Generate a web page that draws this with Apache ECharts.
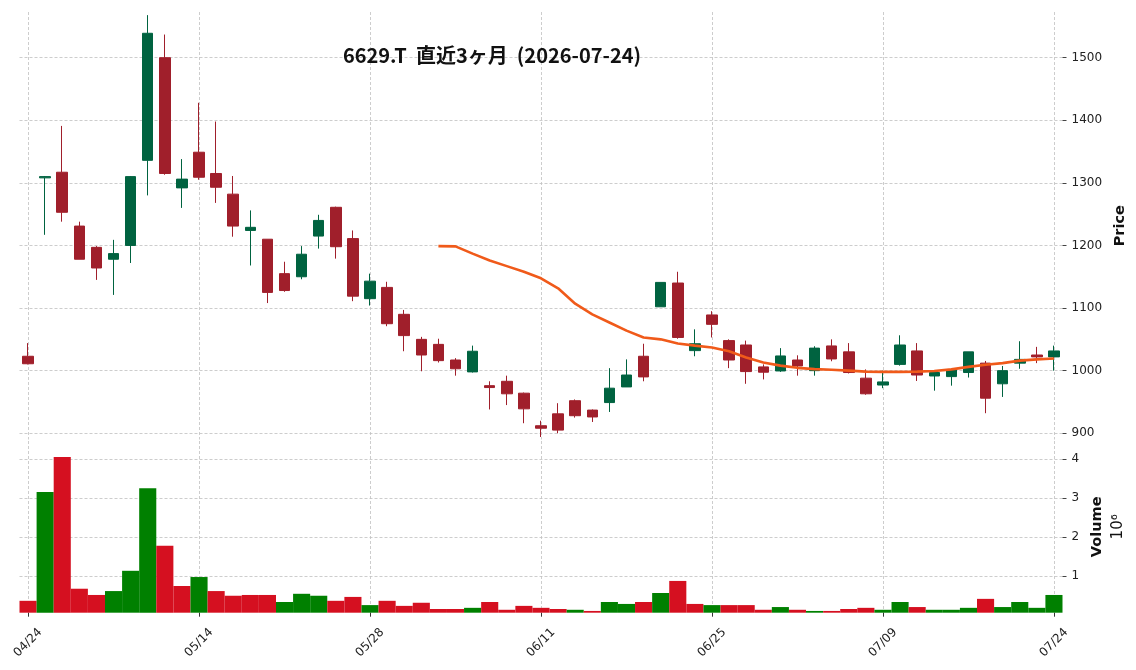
<!DOCTYPE html>
<html>
<head>
<meta charset="utf-8">
<title>6629.T</title>
<script src="https://cdn.jsdelivr.net/npm/echarts@6/dist/echarts.min.js"></script>
<style>
  html, body { margin: 0; padding: 0; background: #fff; }
  #chart { width: 1136px; height: 670px; }
</style>
</head>
<body>
<div id="chart"></div>
<script>
// trading days (MM/DD)
const dates = [
  '04/24', '04/27', '04/28', '04/30', '05/01', '05/07', '05/08', '05/11', '05/12', '05/13',
  '05/14', '05/15', '05/18', '05/19', '05/20', '05/21', '05/22', '05/25', '05/26', '05/27',
  '05/28', '05/29', '06/01', '06/02', '06/03', '06/04', '06/05', '06/08', '06/09', '06/10',
  '06/11', '06/12', '06/15', '06/16', '06/17', '06/18', '06/19', '06/22', '06/23', '06/24',
  '06/25', '06/26', '06/29', '06/30', '07/01', '07/02', '07/03', '07/06', '07/07', '07/08',
  '07/09', '07/10', '07/13', '07/14', '07/15', '07/16', '07/17', '07/21', '07/22', '07/23',
  '07/24'
]

const opens = [
  1023, 1308, 1317, 1231, 1197, 1178, 1200, 1336, 1500, 1292,
  1349, 1315, 1282, 1224, 1210, 1155, 1150, 1215, 1261, 1211,
  1115, 1133, 1090, 1050, 1042, 1017, 998, 976, 983, 964,
  912, 931, 952, 937, 949, 974, 1023, 1102, 1140, 1032,
  1089, 1048, 1041, 1006, 999.5, 1017, 1000, 1039.5, 1030, 988,
  977, 1010, 1031.5, 991.5, 990.5, 997, 1012, 979, 1012, 1025,
  1022
]
const closes = [
  1011, 1310, 1253, 1178, 1164, 1187, 1310, 1539, 1315, 1306,
  1309, 1293, 1231, 1229, 1125, 1128, 1186, 1240, 1198, 1119,
  1143, 1075, 1056, 1025, 1016, 1003, 1031, 973, 963, 939,
  908, 905, 928, 926, 972, 993, 990, 1141, 1053, 1043,
  1074, 1017, 998.5, 997.5, 1023.5, 1007.5, 1036, 1018.7, 997, 963,
  982, 1041, 993, 997, 1001, 1030, 956, 1000, 1018, 1022,
  1031.5
]
const lows = [
  1010, 1217, 1238, 1178, 1145, 1121, 1172, 1280, 1313, 1260,
  1305, 1268, 1214, 1168, 1108, 1126, 1146, 1195, 1179, 1111,
  1104, 1071, 1031, 999, 1013, 992, 997, 938, 945, 916,
  894, 900, 925, 918, 934, 974, 983, 1102, 1051, 1023,
  1053, 1004, 979, 986, 998, 992, 992, 1015, 995.5, 961.5,
  972, 1008, 983.5, 968, 976, 989, 932, 958, 1003, 1012,
  1000
]
const highs = [
  1044, 1311, 1391, 1238, 1199, 1209, 1311, 1568, 1537, 1338,
  1428, 1398, 1311, 1256, 1210, 1174, 1199, 1249, 1262, 1224,
  1155, 1142, 1097, 1054, 1051, 1020, 1040, 983, 992, 965,
  920, 948, 954, 938, 1004, 1018, 1043, 1141, 1158, 1066,
  1095, 1050, 1048, 1010, 1036, 1024.5, 1039, 1050, 1044, 1002,
  1000, 1056.5, 1044, 1000, 1003, 1030, 1015.5, 1007.5, 1047, 1038,
  1040
]

// 25-day moving average as drawn (starts on the 25th session)
const ma25 = [
  null, null, null, null, null, null, null, null, null, null,
  null, null, null, null, null, null, null, null, null, null,
  null, null, null, null, 1199, 1198.5, 1187, 1176, 1167, 1158,
  1147.5, 1131.5, 1107, 1090, 1077, 1064, 1053, 1050, 1043.5, 1040,
  1037, 1031, 1021, 1013, 1008, 1004.5, 1002.5, 1001.5, 1000, 998.5,
  998, 998, 998.5, 999.5, 1002, 1006, 1009.5, 1012, 1016, 1018,
  1019.5
]

const volumes = [
  370000, 3160000, 4060000, 680000, 520000, 620000, 1140000, 3260000, 1780000, 750000,
  980000, 620000, 500000, 520000, 520000, 340000, 550000, 500000, 370000, 470000,
  260000, 370000, 240000, 320000, 160000, 160000, 190000, 340000, 140000, 240000,
  190000, 160000, 140000, 110000, 340000, 290000, 340000, 570000, 880000, 290000,
  260000, 260000, 260000, 140000, 210000, 140000, 110000, 110000, 160000, 190000,
  140000, 340000, 210000, 140000, 140000, 190000, 420000, 210000, 340000, 190000,
  520000
]

const priceTicks = [900, 1000, 1100, 1200, 1300, 1400, 1500]
const volumeTicks = [1, 2, 3, 4]

const UP = '#006340'
const DOWN = '#a01f2b'
const VOL_UP = '#008000'
const VOL_DOWN = '#d51020'
const MA_COLOR = '#f05a1a'
const GRID_LINE = { color: '#c0c0c0', width: 0.8, type: [3, 2] }
const AXIS_FONT = 'DejaVu Sans'

const candleData = opens.map((o, i) => [o, closes[i], lows[i], highs[i]])

// volume coloured by close vs previous close
const volColor = i => {
  const prev = i === 0 ? opens[0] : closes[i - 1]
  return closes[i] >= prev ? VOL_UP : VOL_DOWN
}

const chart = echarts.init(document.getElementById('chart'), null, { renderer: 'canvas' })

const baseX = {
  type: 'category',
  data: dates,
  boundaryGap: true,
  axisLine: { show: false },
  splitLine: { show: true, interval: 9, alignWithLabel: true, lineStyle: GRID_LINE }
}

const option = {
  backgroundColor: '#ffffff',
  animation: false,
  title: {
    text: '6629.T  直近3ヶ月  (2026-07-24)',
    left: 487,
    top: 40,
    textAlign: 'center',
    textStyle: {
      fontFamily: 'Noto Sans CJK JP',
      fontWeight: 'bold',
      fontSize: 20,
      color: '#111'
    }
  },
  grid: [
    { left: 19.5, right: 73.5, top: 12, height: 427.5 },
    { left: 19.5, right: 73.5, top: 441, height: 171.7 }
  ],
  xAxis: [
    Object.assign({}, baseX, {
      gridIndex: 0,
      axisTick: { show: false },
      axisLabel: { show: false }
    }),
    Object.assign({}, baseX, {
      gridIndex: 1,
      axisTick: {
        show: true,
        interval: 9,
        alignWithLabel: true,
        length: 4,
        lineStyle: { color: '#333', width: 1 }
      },
      axisLabel: {
        interval: 9,
        rotate: 45,
        align: 'center',
        verticalAlign: 'middle',
        margin: 30,
        fontFamily: AXIS_FONT,
        fontSize: 12,
        color: '#222'
      }
    })
  ],
  yAxis: [
    {
      type: 'value',
      gridIndex: 0,
      position: 'right',
      min: 890,
      max: 1573,
      splitNumber: 6,
      name: 'Price',
      nameLocation: 'middle',
      nameRotate: 90,
      nameGap: 44,
      nameTextStyle: { fontFamily: AXIS_FONT, fontWeight: 'bold', fontSize: 14.5, color: '#111' },
      axisLine: { show: false },
      axisTick: { show: true, length: 4, lineStyle: { color: '#444' } },
      axisLabel: {
        margin: 9,
        showMinLabel: false,
        showMaxLabel: false,
        fontFamily: AXIS_FONT,
        fontSize: 12,
        color: '#222',
        formatter: v => (priceTicks.includes(v) ? String(v) : '')
      },
      splitLine: { show: true, showMinLine: false, showMaxLine: false, lineStyle: GRID_LINE }
    },
    {
      type: 'value',
      gridIndex: 1,
      position: 'right',
      min: 65000,
      max: 4470000,
      splitNumber: 5,
      name: '{a|Volume}\n{b|10⁶}',
      nameLocation: 'middle',
      nameRotate: 90,
      nameGap: 16,
      nameTextStyle: {
        rich: {
          a: { fontFamily: AXIS_FONT, fontWeight: 'bold', fontSize: 14.5, color: '#111', lineHeight: 21 },
          b: { fontFamily: AXIS_FONT, fontSize: 15, color: '#111', lineHeight: 21 }
        }
      },
      axisLine: { show: false },
      axisTick: { show: true, length: 4, lineStyle: { color: '#444' } },
      axisLabel: {
        margin: 9,
        showMinLabel: false,
        showMaxLabel: false,
        fontFamily: AXIS_FONT,
        fontSize: 12,
        color: '#222',
        formatter: v => {
          const m = Math.round(v / 1e5) / 10
          return volumeTicks.includes(m) ? String(m) : ''
        }
      },
      splitLine: { show: true, showMinLine: false, showMaxLine: false, lineStyle: GRID_LINE }
    }
  ],
  series: [
    {
      name: '6629.T',
      type: 'candlestick',
      xAxisIndex: 0,
      yAxisIndex: 0,
      data: candleData,
      barWidth: 11,
      itemStyle: {
        color: UP,
        color0: DOWN,
        borderColor: UP,
        borderColor0: DOWN,
        borderWidth: 1
      }
    },
    {
      name: 'MA25',
      type: 'line',
      xAxisIndex: 0,
      yAxisIndex: 0,
      data: ma25,
      showSymbol: false,
      symbol: 'none',
      connectNulls: false,
      lineStyle: { color: MA_COLOR, width: 2.6 },
      z: 3
    },
    {
      name: 'Volume',
      type: 'bar',
      xAxisIndex: 1,
      yAxisIndex: 1,
      data: volumes,
      barWidth: '100%',
      barCategoryGap: '0%',
      itemStyle: {
        color: p => volColor(p.dataIndex)
      }
    }
  ]
}

chart.setOption(option)
</script>
</body>
</html>
